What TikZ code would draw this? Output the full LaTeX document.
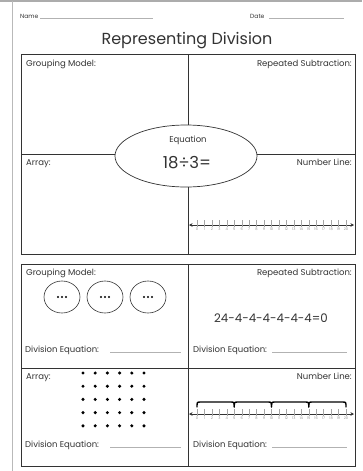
\documentclass[tikz,border=0pt]{standalone}
\usepackage{fontspec}
\setmainfont{Poppins}
\usetikzlibrary{arrows.meta}
\definecolor{ink}{gray}{0.2}
\tikzset{
  frame/.style={draw=ink, line width=0.7pt},
  lbl/.style={font=\fontsize{8.5}{9}\selectfont, text=ink, inner sep=0pt},
  tick/.style={draw=gray!70, line width=0.35pt},
  nlabel/.style={font=\fontsize{3.6}{4}\selectfont, text=gray!80, inner sep=0pt},
  nline/.style={draw=ink, line width=0.6pt, {Stealth[length=3.5pt,width=3.5pt]}-{Stealth[length=3.5pt,width=3.5pt]}},
  blank/.style={draw=gray!60, line width=0.4pt},
  dot/.style={fill=black, draw=none},
  bracepath/.style={draw=black, line width=1.4pt, line cap=round, line join=round}
}
\newcommand{\mynumline}[2]{%
  \coordinate (#2L) at (189,#1);
  \coordinate (#2R) at (354,#1);
  \draw[nline] (#2L) -- (#2R);
  \foreach \i in {0,...,20}{
    \draw[tick] ({197+7.45*\i},{#1-5}) -- ({197+7.45*\i},{#1+1.5});
    \node[nlabel] (#2n\i) at ({197+7.45*\i},{#1+4.5}) {\i};
  }
}
\begin{document}
\begin{tikzpicture}[x=1pt,y=-1pt]
\useasboundingbox (0,0) rectangle (362,471);
\fill[white] (0,0) rectangle (362,471);
% page edges
\draw[gray!65, line width=1.6pt] (0,0.8) -- (362,0.8);
\draw[gray!55, line width=0.8pt] (12,1) -- (12,471);
% header
\node[lbl, anchor=base west, font=\fontsize{6}{6}\selectfont] (name) at (20,18) {Name};
\draw[blank] (40,18) -- (153,18);
\node[lbl, anchor=base west, font=\fontsize{6}{6}\selectfont] (date) at (250,18) {Date};
\draw[blank] (269,18) -- (344,18);
\node[inner sep=0pt, text=ink, font=\fontsize{16}{18}\selectfont] (title) at (187,41) {Representing Division};
% upper box
\draw[frame] (21,54) rectangle (355,254);
\draw[frame] (188,54) -- (188,254);
\draw[frame] (21,154) -- (355,154);
\draw[frame, fill=white] (186,156) ellipse [x radius=71, y radius=31];
\node[lbl, anchor=base] (eq) at (188,142) {Equation};
\node[inner sep=0pt, text=ink, font=\fontsize{16.5}{18}\selectfont] (expr) at (187,163) {18÷3=};
\node[lbl, anchor=base west] (g1) at (26,66) {Grouping Model:};
\node[lbl, anchor=base east] (r1) at (352,66) {Repeated Subtraction:};
\node[lbl, anchor=base west] (a1) at (26,165) {Array:};
\node[lbl, anchor=base east] (n1) at (352,165) {Number Line:};
\mynumline{225}{up}
% lower box
\draw[frame] (21,264) rectangle (355,466);
\draw[frame] (188,264) -- (188,466);
\draw[frame] (21,368) -- (355,368);
\node[lbl, anchor=base west] (g2) at (26,275) {Grouping Model:};
\node[lbl, anchor=base east] (r2) at (352,275) {Repeated Subtraction:};
\node[lbl, anchor=base west] (a2) at (26,379) {Array:};
\node[lbl, anchor=base east] (n2) at (352,379) {Number Line:};
% grouping circles
\foreach \cx/\nm in {62/c1,105/c2,148/c3}{
  \draw[draw=ink, line width=0.6pt] (\cx,297) ellipse [x radius=18, y radius=16];
  \foreach \d in {-4,0,4}{ \fill[dot] ({\cx+\d},297) circle (1.2); }
}
\node[lbl, anchor=base west] (de1) at (25,352) {Division Equation:};
\draw[blank] (110,352) -- (181,352);
% repeated subtraction
\node[inner sep=0pt, text=ink, font=\fontsize{11.8}{13}\selectfont] (rs) at (271,318) {24-4-4-4-4-4-4=0};
\node[lbl, anchor=base west] (de2) at (193,352) {Division Equation:};
\draw[blank] (272,352) -- (347,352);
% array dots
\foreach \i in {0,...,5}{
  \foreach \j in {0,...,4}{
    \fill[dot] ({83+12.2*\i},{373+13.2*\j}) circle (1.7);
  }
}
\node[lbl, anchor=base west] (de3) at (25,447) {Division Equation:};
\draw[blank] (110,447) -- (181,447);
% lower number line
\mynumline{414}{lo}
\foreach \k in {0,1,2,3}{
  \pgfmathsetmacro{\xa}{197+7.45*5*\k}
  \pgfmathsetmacro{\xb}{\xa+7.45*5}
  \draw[bracepath] (\xa,407) .. controls (\xa,402) .. (\xa+4,402) -- ({\xb-4},402) .. controls (\xb,402) .. (\xb,407);
}
\node[lbl, anchor=base west] (de4) at (193,447) {Division Equation:};
\draw[blank] (272,447) -- (347,447);
\end{tikzpicture}
\end{document}
